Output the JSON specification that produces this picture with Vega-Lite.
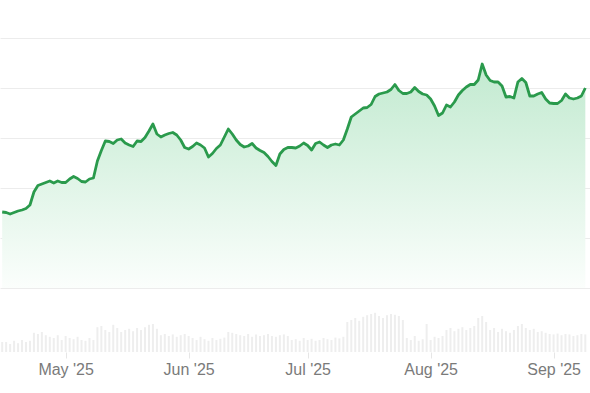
{
  "$schema": "https://vega.github.io/schema/vega-lite/v6.json",
  "width": 590,
  "height": 352,
  "autosize": {"type": "none"},
  "padding": {"left": 0, "top": 0, "right": 0, "bottom": 41},
  "background": "#ffffff",
  "config": {"view": {"stroke": null}, "font": "Liberation Sans"},
  "data": {"values": [
    {"date":"2025-04-15","price":115.2,"volume":25},
    {"date":"2025-04-16","price":115.1,"volume":25},
    {"date":"2025-04-17","price":114.8,"volume":20},
    {"date":"2025-04-18","price":115.1,"volume":28},
    {"date":"2025-04-19","price":115.4,"volume":22},
    {"date":"2025-04-20","price":115.6,"volume":30},
    {"date":"2025-04-21","price":115.9,"volume":25},
    {"date":"2025-04-22","price":116.6,"volume":28},
    {"date":"2025-04-23","price":119.2,"volume":48},
    {"date":"2025-04-24","price":120.5,"volume":45},
    {"date":"2025-04-25","price":120.8,"volume":50},
    {"date":"2025-04-26","price":121.1,"volume":42},
    {"date":"2025-04-27","price":121.4,"volume":38},
    {"date":"2025-04-28","price":121.0,"volume":35},
    {"date":"2025-04-29","price":121.4,"volume":42},
    {"date":"2025-04-30","price":121.1,"volume":30},
    {"date":"2025-05-01","price":121.1,"volume":40},
    {"date":"2025-05-02","price":121.8,"volume":35},
    {"date":"2025-05-03","price":122.3,"volume":32},
    {"date":"2025-05-04","price":121.9,"volume":38},
    {"date":"2025-05-05","price":121.3,"volume":30},
    {"date":"2025-05-06","price":121.2,"volume":28},
    {"date":"2025-05-07","price":121.8,"volume":35},
    {"date":"2025-05-08","price":122.0,"volume":30},
    {"date":"2025-05-09","price":125.4,"volume":62},
    {"date":"2025-05-10","price":127.5,"volume":65},
    {"date":"2025-05-11","price":129.4,"volume":55},
    {"date":"2025-05-12","price":129.3,"volume":50},
    {"date":"2025-05-13","price":128.9,"volume":68},
    {"date":"2025-05-14","price":129.6,"volume":60},
    {"date":"2025-05-15","price":129.8,"volume":50},
    {"date":"2025-05-16","price":129.0,"volume":55},
    {"date":"2025-05-17","price":128.6,"volume":58},
    {"date":"2025-05-18","price":128.3,"volume":52},
    {"date":"2025-05-19","price":129.4,"volume":60},
    {"date":"2025-05-20","price":129.3,"volume":55},
    {"date":"2025-05-21","price":130.1,"volume":62},
    {"date":"2025-05-22","price":131.4,"volume":68},
    {"date":"2025-05-23","price":132.8,"volume":70},
    {"date":"2025-05-24","price":130.8,"volume":58},
    {"date":"2025-05-25","price":130.2,"volume":42},
    {"date":"2025-05-26","price":130.6,"volume":45},
    {"date":"2025-05-27","price":130.9,"volume":40},
    {"date":"2025-05-28","price":131.1,"volume":44},
    {"date":"2025-05-29","price":130.6,"volume":38},
    {"date":"2025-05-30","price":129.6,"volume":42},
    {"date":"2025-05-31","price":128.1,"volume":45},
    {"date":"2025-06-01","price":127.8,"volume":40},
    {"date":"2025-06-02","price":128.3,"volume":35},
    {"date":"2025-06-03","price":129.0,"volume":30},
    {"date":"2025-06-04","price":128.6,"volume":38},
    {"date":"2025-06-05","price":128.0,"volume":32},
    {"date":"2025-06-06","price":126.2,"volume":28},
    {"date":"2025-06-07","price":126.9,"volume":35},
    {"date":"2025-06-08","price":127.9,"volume":30},
    {"date":"2025-06-09","price":128.6,"volume":33},
    {"date":"2025-06-10","price":130.2,"volume":36},
    {"date":"2025-06-11","price":131.8,"volume":50},
    {"date":"2025-06-12","price":130.8,"volume":48},
    {"date":"2025-06-13","price":129.6,"volume":45},
    {"date":"2025-06-14","price":128.7,"volume":42},
    {"date":"2025-06-15","price":128.2,"volume":40},
    {"date":"2025-06-16","price":128.4,"volume":45},
    {"date":"2025-06-17","price":128.9,"volume":38},
    {"date":"2025-06-18","price":128.0,"volume":44},
    {"date":"2025-06-19","price":127.5,"volume":40},
    {"date":"2025-06-20","price":127.1,"volume":42},
    {"date":"2025-06-21","price":126.3,"volume":45},
    {"date":"2025-06-22","price":125.3,"volume":40},
    {"date":"2025-06-23","price":124.5,"volume":38},
    {"date":"2025-06-24","price":126.8,"volume":42},
    {"date":"2025-06-25","price":127.7,"volume":44},
    {"date":"2025-06-26","price":128.1,"volume":40},
    {"date":"2025-06-27","price":128.1,"volume":30},
    {"date":"2025-06-28","price":128.0,"volume":32},
    {"date":"2025-06-29","price":128.4,"volume":28},
    {"date":"2025-06-30","price":129.0,"volume":35},
    {"date":"2025-07-01","price":128.5,"volume":30},
    {"date":"2025-07-02","price":127.6,"volume":33},
    {"date":"2025-07-03","price":128.9,"volume":28},
    {"date":"2025-07-04","price":129.2,"volume":30},
    {"date":"2025-07-05","price":128.6,"volume":35},
    {"date":"2025-07-06","price":128.1,"volume":32},
    {"date":"2025-07-07","price":128.6,"volume":30},
    {"date":"2025-07-08","price":128.8,"volume":36},
    {"date":"2025-07-09","price":128.6,"volume":34},
    {"date":"2025-07-10","price":129.6,"volume":38},
    {"date":"2025-07-11","price":131.8,"volume":75},
    {"date":"2025-07-12","price":134.2,"volume":80},
    {"date":"2025-07-13","price":134.8,"volume":85},
    {"date":"2025-07-14","price":135.4,"volume":78},
    {"date":"2025-07-15","price":136.0,"volume":88},
    {"date":"2025-07-16","price":136.1,"volume":92},
    {"date":"2025-07-17","price":136.7,"volume":95},
    {"date":"2025-07-18","price":138.3,"volume":98},
    {"date":"2025-07-19","price":138.8,"volume":90},
    {"date":"2025-07-20","price":139.0,"volume":85},
    {"date":"2025-07-21","price":139.2,"volume":92},
    {"date":"2025-07-22","price":139.7,"volume":95},
    {"date":"2025-07-23","price":140.7,"volume":93},
    {"date":"2025-07-24","price":139.5,"volume":90},
    {"date":"2025-07-25","price":138.9,"volume":80},
    {"date":"2025-07-26","price":138.9,"volume":35},
    {"date":"2025-07-27","price":139.2,"volume":30},
    {"date":"2025-07-28","price":140.1,"volume":40},
    {"date":"2025-07-29","price":139.3,"volume":28},
    {"date":"2025-07-30","price":138.8,"volume":32},
    {"date":"2025-07-31","price":138.6,"volume":70},
    {"date":"2025-08-01","price":137.8,"volume":30},
    {"date":"2025-08-02","price":136.4,"volume":38},
    {"date":"2025-08-03","price":134.5,"volume":35},
    {"date":"2025-08-04","price":135.0,"volume":40},
    {"date":"2025-08-05","price":136.6,"volume":55},
    {"date":"2025-08-06","price":136.2,"volume":60},
    {"date":"2025-08-07","price":137.2,"volume":52},
    {"date":"2025-08-08","price":138.6,"volume":58},
    {"date":"2025-08-09","price":139.5,"volume":62},
    {"date":"2025-08-10","price":140.2,"volume":55},
    {"date":"2025-08-11","price":140.7,"volume":60},
    {"date":"2025-08-12","price":140.7,"volume":65},
    {"date":"2025-08-13","price":141.6,"volume":85},
    {"date":"2025-08-14","price":144.8,"volume":90},
    {"date":"2025-08-15","price":142.6,"volume":75},
    {"date":"2025-08-16","price":141.5,"volume":55},
    {"date":"2025-08-17","price":141.2,"volume":60},
    {"date":"2025-08-18","price":141.2,"volume":50},
    {"date":"2025-08-19","price":140.4,"volume":58},
    {"date":"2025-08-20","price":138.2,"volume":52},
    {"date":"2025-08-21","price":138.3,"volume":48},
    {"date":"2025-08-22","price":138.0,"volume":55},
    {"date":"2025-08-23","price":141.2,"volume":65},
    {"date":"2025-08-24","price":141.9,"volume":70},
    {"date":"2025-08-25","price":141.1,"volume":60},
    {"date":"2025-08-26","price":138.4,"volume":55},
    {"date":"2025-08-27","price":138.4,"volume":58},
    {"date":"2025-08-28","price":138.8,"volume":50},
    {"date":"2025-08-29","price":139.1,"volume":52},
    {"date":"2025-08-30","price":137.8,"volume":48},
    {"date":"2025-08-31","price":137.0,"volume":45},
    {"date":"2025-09-01","price":136.9,"volume":44},
    {"date":"2025-09-02","price":136.9,"volume":46},
    {"date":"2025-09-03","price":137.5,"volume":42},
    {"date":"2025-09-04","price":138.8,"volume":45},
    {"date":"2025-09-05","price":138.0,"volume":44},
    {"date":"2025-09-06","price":137.8,"volume":40},
    {"date":"2025-09-07","price":138.0,"volume":42},
    {"date":"2025-09-08","price":138.4,"volume":45},
    {"date":"2025-09-09","price":140.0,"volume":44}
  ]},
  "encoding": {
    "x": {
      "field": "date",
      "type": "temporal",
      "scale": {
        "type": "utc",
        "domain": [
          {"year": 2025, "month": 4, "date": 15, "hours": 17, "utc": true},
          {"year": 2025, "month": 9, "date": 8, "hours": 22, "utc": true}
        ],
        "nice": false
      },
      "axis": {
        "title": null,
        "values": [
          {"year": 2025, "month": 5, "date": 1, "utc": true},
          {"year": 2025, "month": 6, "date": 1, "utc": true},
          {"year": 2025, "month": 7, "date": 1, "utc": true},
          {"year": 2025, "month": 8, "date": 1, "utc": true},
          {"year": 2025, "month": 9, "date": 1, "utc": true}
        ],
        "labelExpr": "utcFormat(datum.value, \"%b '%y\")",
        "grid": false,
        "domain": false,
        "ticks": true,
        "tickColor": "#e6e6e6",
        "tickSize": 6,
        "labelPadding": 3,
        "labelFontSize": 16,
        "labelColor": "#7a7a7a",
        "labelFont": "Liberation Sans",
        "labelOverlap": false,
        "labelFlush": false
      }
    }
  },
  "layer": [
    {
      "mark": {"type": "bar", "color": "#eeeeee", "size": 2, "clip": true},
      "encoding": {
        "y": {
          "field": "volume",
          "type": "quantitative",
          "scale": {"domain": [0, 880], "nice": false, "zero": true},
          "axis": null
        }
      }
    },
    {
      "layer": [
        {
          "mark": {
            "type": "area",
            "clip": true,
            "color": {
              "x1": 0, "y1": 0, "x2": 0, "y2": 1,
              "gradient": "linear",
              "stops": [
                {"offset": 0, "color": "#c2ead0"},
                {"offset": 1, "color": "#fbfefc"}
              ]
            }
          },
          "encoding": {
            "y": {
              "field": "price",
              "type": "quantitative",
              "scale": {"domain": [87.2, 157.6], "nice": false, "zero": false},
              "axis": {
                "title": null,
                "values": [100, 110, 120, 130, 140, 150],
                "grid": true,
                "gridColor": "#ececec",
                "gridWidth": 1,
                "labels": false,
                "ticks": false,
                "domain": false
              }
            },
            "y2": {"datum": 100}
          }
        },
        {
          "mark": {"type": "line", "clip": true, "color": "#2a9a4c", "strokeWidth": 2.8, "strokeJoin": "round"},
          "encoding": {
            "y": {"field": "price", "type": "quantitative"}
          }
        }
      ]
    }
  ],
  "resolve": {"scale": {"y": "independent"}, "axis": {"y": "independent"}}
}
